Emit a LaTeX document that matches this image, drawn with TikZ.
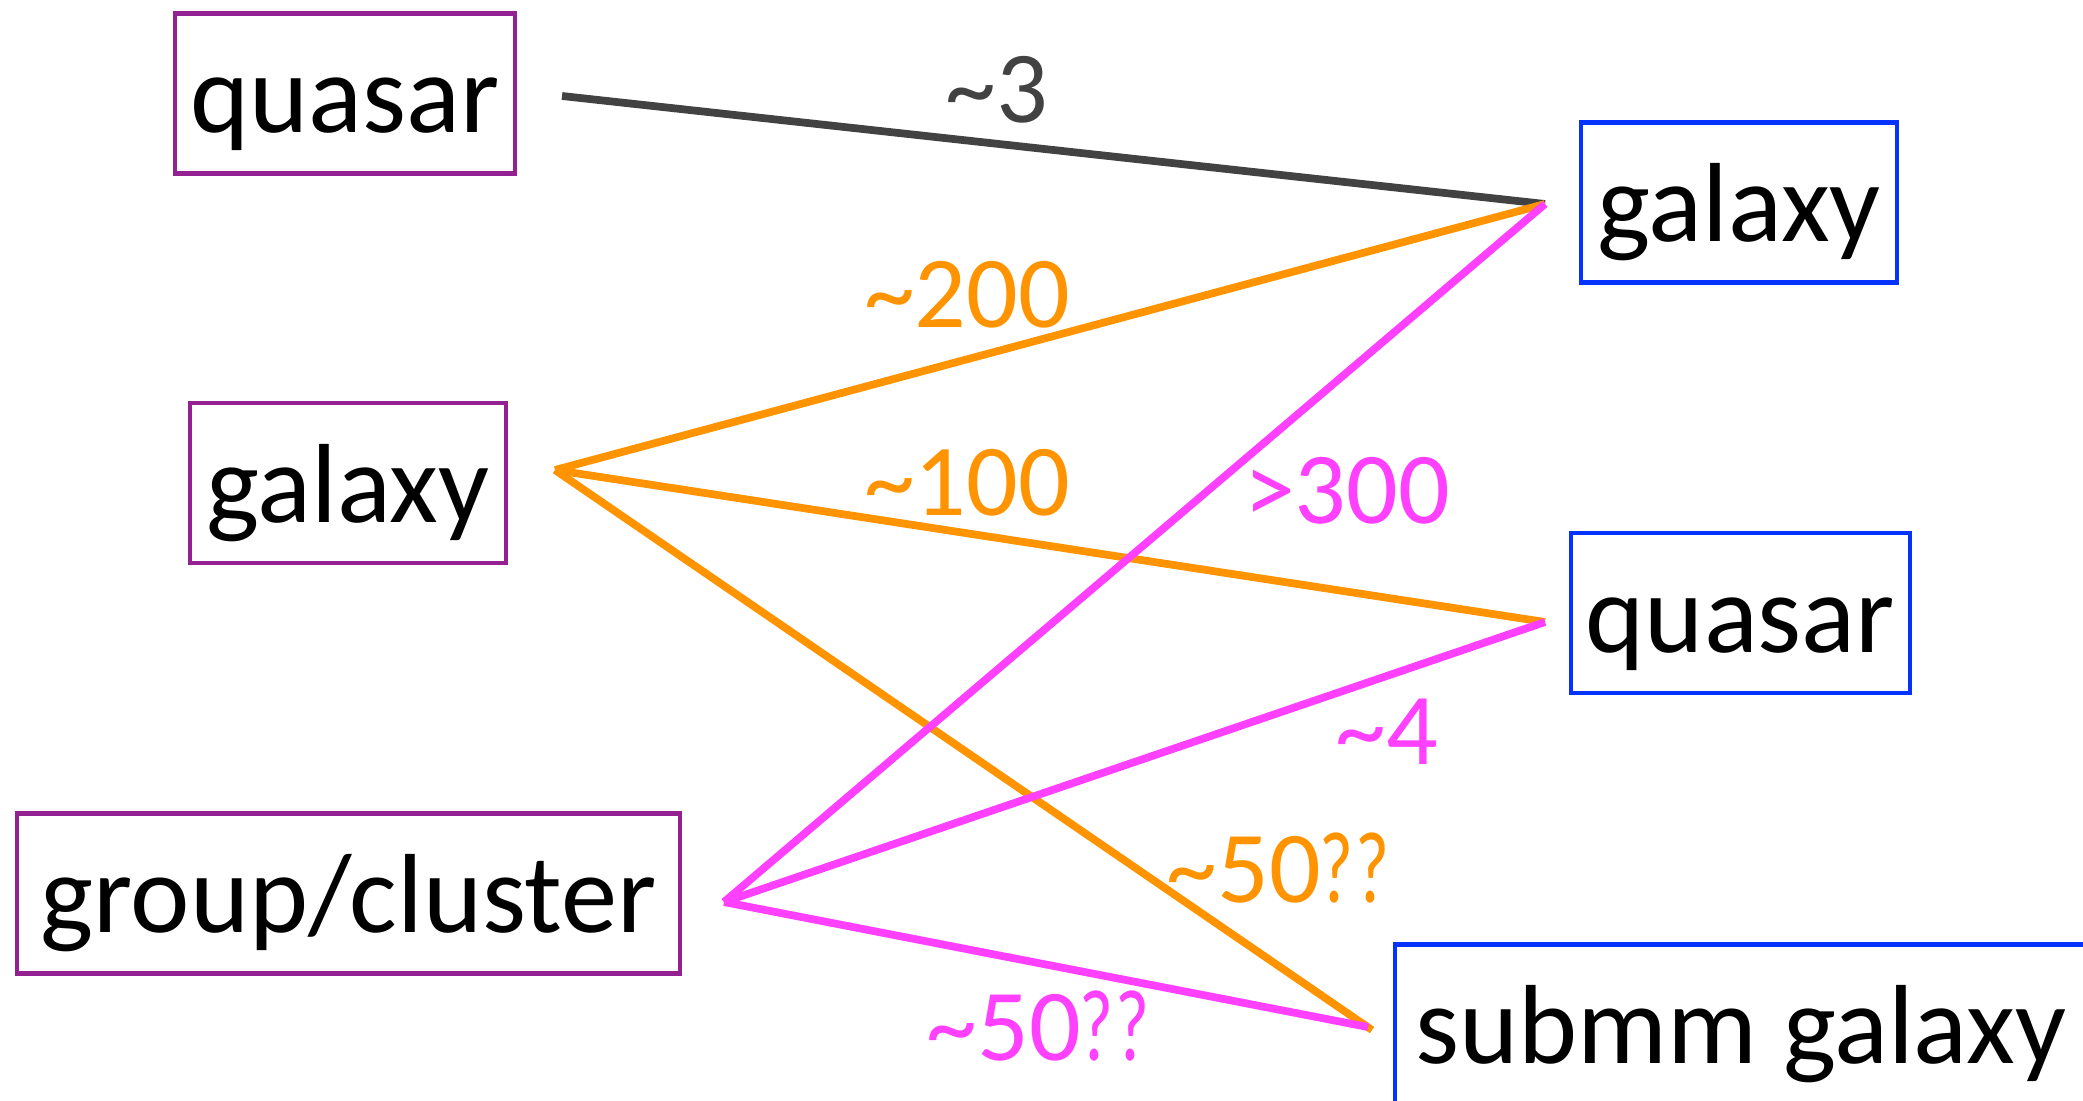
\documentclass[tikz,border=0pt]{standalone}
\usepackage{fontspec}
\usepackage{graphicx}
\setmainfont{Carlito}
\definecolor{boxpurple}{HTML}{942192}
\definecolor{boxblue}{HTML}{0433FF}
\definecolor{linegray}{HTML}{424242}
\definecolor{lineorange}{HTML}{FF9300}
\definecolor{linemag}{HTML}{FF40FF}
\newcommand{\tld}{{\char"7E\relax}}
\newcommand{\nq}{\scalebox{0.72}[1]{?}}
\newcommand{\qq}{\kern-0.02em\nq\kern0.02em\nq}
\tikzset{
  objbox/.style={draw, line width=1.3pt, inner xsep=0pt, inner ysep=0pt,
    text height=1.19cm, text depth=0.41cm, font=\fontsize{32}{36}\selectfont, text=black},
  srcbox/.style={objbox, draw=boxpurple},
  tgtbox/.style={objbox, draw=boxblue},
  link/.style={line width=2.2pt},
  numlabel/.style={anchor=base, inner sep=0pt, font=\fontsize{29}{33}\selectfont}
}
\begin{document}
\begin{tikzpicture}[x=0.01cm, y=-0.01cm]
\useasboundingbox (0,0) rectangle (2083,1100);
\clip (0,0) rectangle (2083,1100);
% source boxes
\node[srcbox, minimum width=3.40cm] (quasarL) at (345,93.5) {quasar};
\node[srcbox, minimum width=3.16cm] (galaxyL) at (348,483) {galaxy};
\node[srcbox, minimum width=6.63cm] (group) at (348.5,893.5) {group/cluster};
% target boxes
\node[tgtbox, minimum width=3.16cm] (galaxyR) at (1739,202.5) {galaxy};
\node[tgtbox, minimum width=3.39cm] (quasarR) at (1740.5,613) {quasar};
\node[tgtbox, minimum width=6.92cm] (submm) at (1741,1024.5) {submm galaxy};
% connector end points
\coordinate (pQL) at (562,96);
\coordinate (pGL) at (555,470);
\coordinate (pGC) at (724,902);
\coordinate (pGR) at (1545,204);
\coordinate (pQR) at (1545,622);
\coordinate (pSMo) at (1372,1030);
\coordinate (pSMm) at (1368,1027);
% connectors
\draw[link, linegray] (pQL) -- (pGR);
\draw[link, lineorange] (pGL) -- (pGR);
\draw[link, lineorange] (pGL) -- (pQR);
\draw[link, lineorange] (pGL) -- (pSMo);
\draw[link, linemag] (pGC) -- (pGR);
\draw[link, linemag] (pGC) -- (pQR);
\draw[link, linemag] (pGC) -- (pSMm);
% labels
\node[numlabel, text=linegray] (l3) at (997,122) {\tld3};
\node[numlabel, text=lineorange] (l200) at (967,327) {\tld200};
\node[numlabel, text=lineorange] (l100) at (967,515) {\tld100};
\node[numlabel, text=linemag] (l300) at (1347,523) {>300};
\node[numlabel, text=linemag] (l4) at (1387,764) {\tld4};
\node[numlabel, text=lineorange] (l50a) at (1278,902) {\tld50\qq};
\node[numlabel, text=linemag] (l50b) at (1038,1060) {\tld50\qq};
\end{tikzpicture}
\end{document}
